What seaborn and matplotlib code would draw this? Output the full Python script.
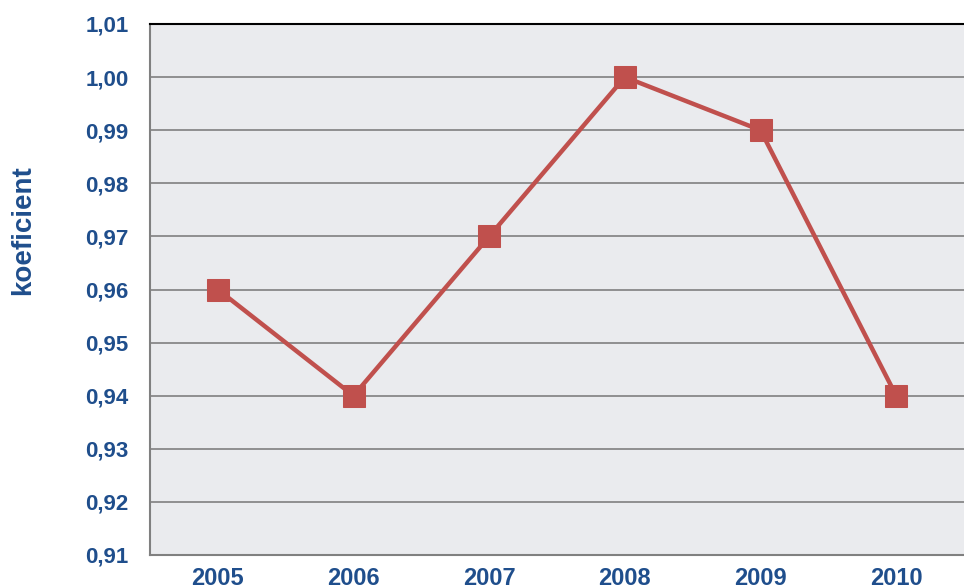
import pandas as pd
import matplotlib
matplotlib.use("Agg")
import matplotlib.pyplot as plt
import seaborn as sns
from matplotlib.ticker import FuncFormatter

# Data
years = ["2005", "2006", "2007", "2008", "2009", "2010"]
koeficient = [0.96, 0.94, 0.97, 1.00, 0.99, 0.94]
y_ticks = [0.91, 0.92, 0.93, 0.94, 0.95, 0.96, 0.97, 0.98, 0.99, 1.00, 1.01]

df = pd.DataFrame({"rok": years, "koeficient": koeficient})

sns.set_style("white")
plt.rcParams["font.family"] = ["Liberation Sans", "DejaVu Sans"]

navy = "#1F4E8C"
red = "#C0504D"

fig = plt.figure(figsize=(9.64, 5.88), dpi=100)
ax = fig.add_axes([150 / 964, 1 - 555 / 588, 814 / 964, 531 / 588])
ax.set_facecolor("#EAEBEE")

sns.lineplot(data=df, x="rok", y="koeficient", ax=ax, color=red,
             linewidth=3.2, marker="s", markersize=15.5, markeredgecolor=red,
             sort=False)

ax.set_xlim(-0.5, 5.5)
ax.set_ylim(0.91, 1.01)
ax.set_yticks(y_ticks)
ax.yaxis.set_major_formatter(FuncFormatter(lambda v, p: f"{v:.2f}".replace(".", ",")))
ax.grid(axis="y", color="#808080", linewidth=1.2)
ax.set_axisbelow(True)

for side in ["left", "bottom"]:
    ax.spines[side].set_color("#808080")
    ax.spines[side].set_linewidth(1.5)
ax.spines["top"].set_color("black")
ax.spines["top"].set_linewidth(1.5)
ax.spines["right"].set_visible(False)

ax.tick_params(axis="y", length=0, labelsize=16, labelcolor=navy, pad=15.5)
ax.tick_params(axis="x", length=0, labelsize=17, labelcolor=navy, pad=8.5)
for lbl in ax.get_xticklabels() + ax.get_yticklabels():
    lbl.set_fontweight("bold")

ax.set_xlabel("")
ax.set_ylabel("koeficient", fontsize=20, fontweight="bold", color=navy)
ax.yaxis.set_label_coords((36 - 150) / 814, (555 - 230) / 531)

fig.savefig("out.png", dpi=100)
